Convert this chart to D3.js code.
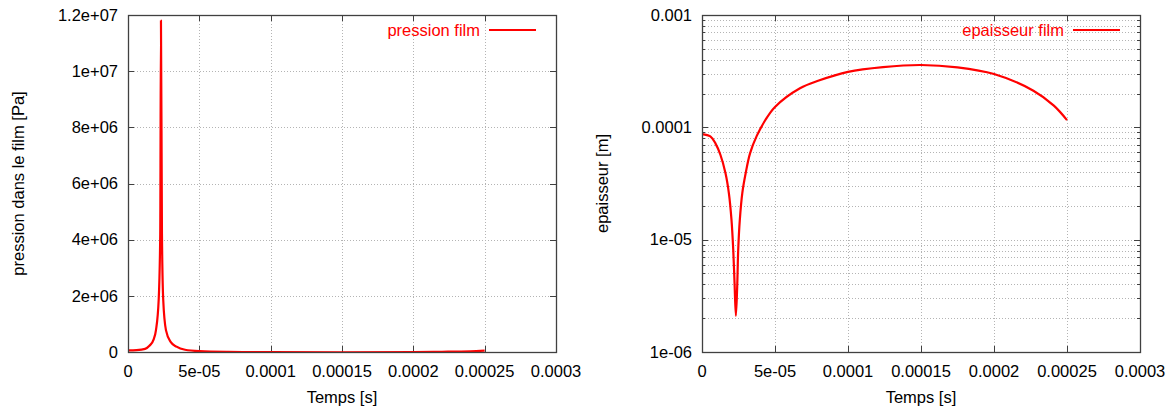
<!DOCTYPE html>
<html><head><meta charset="utf-8">
<script src="https://cdn.jsdelivr.net/npm/d3@7"></script>
<style>
body{margin:0;background:#fff;}
text{font-family:"Liberation Sans",Arial,sans-serif;}
</style></head><body>
<svg id="c" width="1175" height="409"></svg>
<script>
// ---- data ----
const xTicks = [0, 5e-5, 1e-4, 1.5e-4, 2e-4, 2.5e-4, 3e-4];
const xTickLabels = ["0", "5e-05", "0.0001", "0.00015", "0.0002", "0.00025", "0.0003"];
const pTicks = [0, 2e6, 4e6, 6e6, 8e6, 1e7, 1.2e7];
const pTickLabels = ["0", "2e+06", "4e+06", "6e+06", "8e+06", "1e+07", "1.2e+07"];
const hTicks = [1e-6, 1e-5, 1e-4, 1e-3];
const hTickLabels = ["1e-06", "1e-05", "0.0001", "0.001"];

const pTime = [0, 6e-6, 1.2e-5, 1.5e-5, 1.8e-5, 1.96e-5, 2.15e-5, 2.26e-5, 2.31e-5, 2.38e-5, 2.47e-5, 2.66e-5, 3e-5, 3.4e-5, 4e-5, 5e-5, 7e-5, 1e-4, 1.5e-4, 2e-4, 2.2e-4, 2.4e-4, 2.5e-4];
const pValues = [6e4, 7e4, 1.1e5, 2.2e5, 4.5e5, 7.8e5, 1.85e6, 4.2e6, 1.18e7, 4.2e6, 1.85e6, 7.8e5, 3.5e5, 1.9e5, 8e4, 3e4, 5e3, -5e3, -1e4, 0, 8e3, 2.5e4, 5e4];

const hTime = [0, 5.7e-6, 9.2e-6, 1.26e-5, 1.61e-5, 1.84e-5, 2.02e-5, 2.14e-5, 2.23e-5, 2.32e-5, 2.41e-5, 2.48e-5, 2.59e-5, 2.76e-5, 2.99e-5, 3.29e-5, 3.75e-5, 4.32e-5, 5e-5, 6.71e-5, 8e-5, 1e-4, 1.24e-4, 1.5e-4, 1.75e-4, 2e-4, 2.27e-4, 2.41e-4, 2.5e-4];
const hValues = [8.7e-5, 8.3e-5, 7.2e-5, 5.7e-5, 3.9e-5, 2.6e-5, 1.5e-5, 8.1e-6, 4.1e-6, 2.1e-6, 3.8e-6, 8.1e-6, 1.5e-5, 2.6e-5, 3.9e-5, 5.87e-5, 8.39e-5, 1.15e-4, 1.52e-4, 2.23e-4, 2.61e-4, 3.12e-4, 3.44e-4, 3.59e-4, 3.42e-4, 2.98e-4, 2.12e-4, 1.56e-4, 1.16e-4];

// ---- drawing ----
const svg = d3.select("#c");
const FS = 16.5;
const borderCol = "#404040";
const gridCol = "#b4b4b4";

function panel(opt){
  const g = svg.append("g");
  const x = d3.scaleLinear().domain([0, 3e-4]).range([opt.x0, opt.x1]);
  const y = opt.log ? d3.scaleLog().domain([1e-6, 1e-3]).range([opt.y1, opt.y0])
                    : d3.scaleLinear().domain([0, 1.2e7]).range([opt.y1, opt.y0]);
  // grid
  const grid = g.append("g").attr("stroke", gridCol).attr("stroke-width", 1).attr("stroke-dasharray", "1,2");
  xTicks.slice(1, -1).forEach(t => grid.append("line")
    .attr("x1", Math.round(x(t)) + 0.5).attr("x2", Math.round(x(t)) + 0.5)
    .attr("y1", opt.y0).attr("y2", opt.y1));
  let minor = [];
  if (opt.log) {
    [1e-6, 1e-5, 1e-4].forEach(d => { for (let k = 2; k <= 9; k++) minor.push(d * k); });
  }
  const yGridVals = opt.yTicks.slice(1, -1).concat(minor);
  yGridVals.forEach(v => grid.append("line")
    .attr("x1", opt.x0).attr("x2", opt.x1)
    .attr("y1", Math.round(y(v)) + 0.5).attr("y2", Math.round(y(v)) + 0.5));

  // ticks (mirrored, inward)
  const tk = g.append("g").attr("stroke", borderCol).attr("stroke-width", 1);
  xTicks.forEach(t => {
    const xx = Math.round(x(t)) + 0.5;
    tk.append("line").attr("x1", xx).attr("x2", xx).attr("y1", opt.y1).attr("y2", opt.y1 - 6);
    tk.append("line").attr("x1", xx).attr("x2", xx).attr("y1", opt.y0).attr("y2", opt.y0 + 6);
  });
  opt.yTicks.forEach(v => {
    const yy = Math.round(y(v)) + 0.5;
    tk.append("line").attr("x1", opt.x0).attr("x2", opt.x0 + 6).attr("y1", yy).attr("y2", yy);
    tk.append("line").attr("x1", opt.x1).attr("x2", opt.x1 - 6).attr("y1", yy).attr("y2", yy);
  });
  minor.forEach(v => {
    const yy = Math.round(y(v)) + 0.5;
    tk.append("line").attr("x1", opt.x0).attr("x2", opt.x0 + 3).attr("y1", yy).attr("y2", yy);
    tk.append("line").attr("x1", opt.x1).attr("x2", opt.x1 - 3).attr("y1", yy).attr("y2", yy);
  });

  // tick labels
  xTicks.forEach((t, i) => g.append("text").attr("x", x(t)).attr("y", opt.y1 + 25)
    .attr("text-anchor", "middle").attr("font-size", FS).attr("fill", "#000").text(xTickLabels[i]));
  opt.yTicks.forEach((v, i) => g.append("text").attr("x", opt.x0 - 10).attr("y", y(v))
    .attr("dy", "0.35em").attr("text-anchor", "end").attr("font-size", FS).attr("fill", "#000").text(opt.yLabels[i]));

  // axis titles
  g.append("text").attr("x", (opt.x0 + opt.x1) / 2).attr("y", opt.y1 + 51)
    .attr("text-anchor", "middle").attr("font-size", FS).text("Temps [s]");
  g.append("text").attr("transform", `translate(${opt.ylabX},${(opt.y0 + opt.y1) / 2}) rotate(-90)`)
    .attr("text-anchor", "middle").attr("font-size", FS).text(opt.ylab);

  // curve
  const clip = "clip" + opt.id;
  svg.append("clipPath").attr("id", clip).append("rect")
    .attr("x", opt.x0).attr("y", opt.y0 - 1).attr("width", opt.x1 - opt.x0).attr("height", opt.y1 - opt.y0 + 2);
  const line = d3.line().x(d => x(d[0])).y(d => y(d[1])).curve(opt.curve);
  g.append("path").attr("clip-path", `url(#${clip})`)
    .datum(opt.t.map((t, i) => [t, opt.v[i]]))
    .attr("d", line).attr("fill", "none").attr("stroke", "#ff0000").attr("stroke-width", 2.2)
    .attr("stroke-linejoin", "round");

  // border
  g.append("rect").attr("x", opt.x0 + 0.5).attr("y", opt.y0 + 0.5)
    .attr("width", opt.x1 - opt.x0).attr("height", opt.y1 - opt.y0)
    .attr("fill", "none").attr("stroke", borderCol).attr("stroke-width", 1.3);

  // legend
  const ly = opt.y0 + 15;
  g.append("text").attr("x", opt.x1 - 76).attr("y", ly).attr("dy", "0.35em")
    .attr("text-anchor", "end").attr("font-size", FS).attr("fill", "#ff0000").text(opt.legend);
  g.append("line").attr("x1", opt.x1 - 67).attr("x2", opt.x1 - 20).attr("y1", ly).attr("y2", ly)
    .attr("stroke", "#ff0000").attr("stroke-width", 2);
}

panel({id: "p", x0: 128, x1: 556, y0: 15, y1: 352, log: false, yTicks: pTicks, yLabels: pTickLabels,
  ylab: "pression dans le film [Pa]", ylabX: 24, t: pTime, v: pValues, legend: "pression film",
  curve: d3.curveMonotoneX});
panel({id: "h", x0: 702, x1: 1140, y0: 15, y1: 352, log: true, yTicks: hTicks, yLabels: hTickLabels,
  ylab: "epaisseur [m]", ylabX: 608, t: hTime, v: hValues, legend: "epaisseur film",
  curve: d3.curveCatmullRom.alpha(0.5)});
</script>
</body></html>
